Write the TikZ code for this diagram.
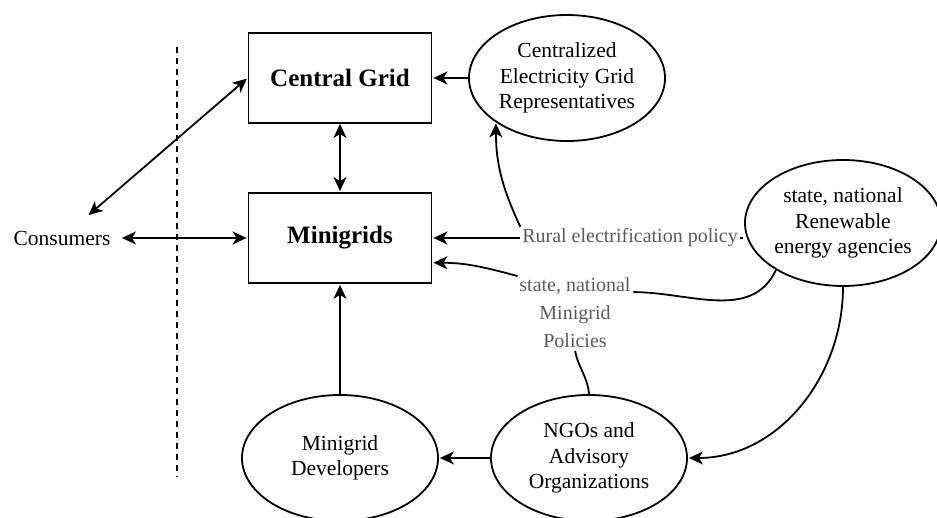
\documentclass[tikz,border=0pt]{standalone}
\usepackage{fontspec}
\setmainfont{Liberation Serif}
\usetikzlibrary{arrows.meta}
\usetikzlibrary{positioning}
\usetikzlibrary{shapes.geometric}
\definecolor{lblgray}{RGB}{90,90,90}

\begin{document}
\begin{tikzpicture}[node distance=2cm,shorten >=1pt,on grid,auto,line width=1.8pt,
    >={Stealth[length=14pt,width=13pt,inset=4pt]},
    box/.style={draw, rectangle, minimum width=183pt, minimum height=90pt, inner sep=0pt, font=\fontsize{25}{30}\selectfont\bfseries},
    blob/.style={draw, ellipse, minimum width=196pt, minimum height=126pt, inner sep=0pt, align=center, font=\fontsize{21.5}{25.5}\selectfont},
    party/.style={minimum width=118pt, minimum height=44pt, inner sep=0pt, font=\fontsize{21.5}{25.5}\selectfont},
    lbl/.style={inner sep=1pt, text=lblgray, align=center, font=\fontsize{20}{28}\selectfont}]
            \useasboundingbox (-340pt,-280pt) rectangle (597pt,238pt);
            \node[box] (mini) at (0,0) {Minigrids};
            \node[box] (cgrid) [above=160pt of mini] {Central Grid};
            \node[party] (cons) [left=278pt of mini] {Consumers};
            \node[blob] (cer) [right=227pt of cgrid] {Centralized\\Electricity Grid\\Representatives};
            \node[blob] (dev) [below=220pt of mini] {Minigrid\\Developers};
            \node[blob] (ngo) [right=249pt of dev] {NGOs and\\Advisory\\Organizations};
            \node[blob] (rea) [above right=15pt and 503pt of mini] {state, national\\Renewable\\energy agencies};
            \node[lbl] (rural) [right=290pt of mini] {Rural electrification policy};
            \node[lbl] (pol) [below right=75pt and 235pt of mini] {state, national\\Minigrid\\Policies};
            \coordinate[above left=191pt and 163pt of mini] (divtop);
            \coordinate[below left=240pt and 163pt of mini] (divbot);
            \draw[line width=1.3pt, dash pattern=on 6pt off 5pt] (divtop) -- (divbot);
            \path[<->]
            (cons) edge (cgrid.west)
            (cons) edge (mini.west)
            (cgrid) edge (mini);
            \path[->]
            (cer) edge (cgrid)
            (rural) edge (mini)
            (rural.north west) edge[out=115, in=-90] (cer.212)
            (pol.north west) edge[out=165, in=0] (mini.-15)
            (rea.south) edge[out=-90, in=0] (ngo.east)
            (ngo) edge (dev)
            (dev) edge (mini);
            \path
            (rural.east) edge (rural.east -| rea.west)
            (rea.215) edge[out=-115, in=0] (pol.20)
            (ngo.north) edge[out=95, in=-80] (pol.south);
        \end{tikzpicture}
\end{document}
